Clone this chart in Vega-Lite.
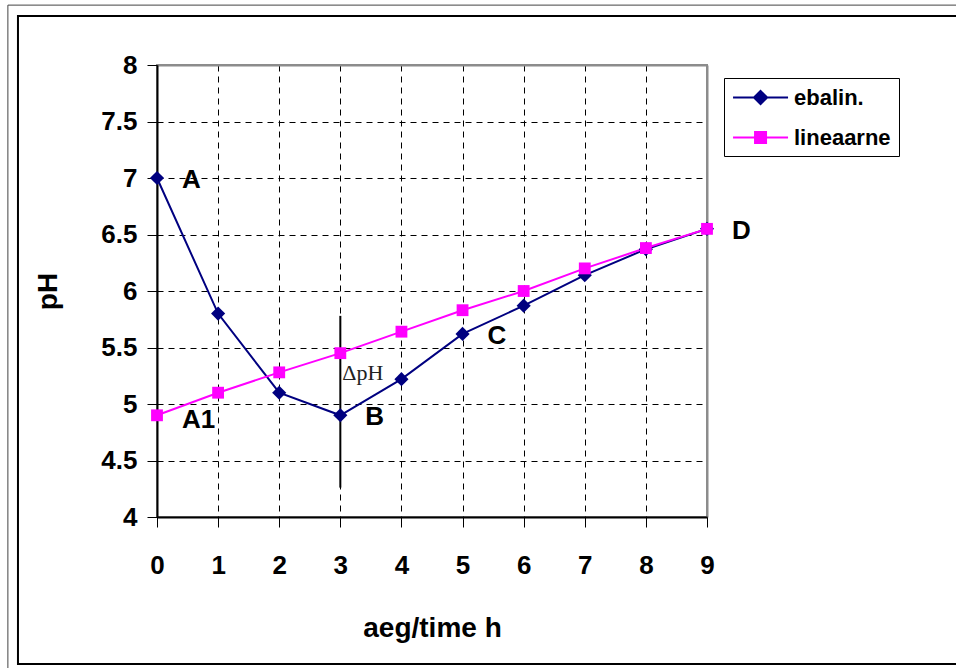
{
  "$schema": "https://vega.github.io/schema/vega-lite/v6.json",
  "width": 550,
  "height": 452,
  "autosize": {"type": "none"},
  "padding": {"left": 157, "top": 65, "right": 249, "bottom": 151},
  "background": "white",
  "datasets": {
    "series": [
      {"t": 0, "pH": 7.0, "series": "ebalin."},
      {"t": 1, "pH": 5.8, "series": "ebalin."},
      {"t": 2, "pH": 5.1, "series": "ebalin."},
      {"t": 3, "pH": 4.9, "series": "ebalin."},
      {"t": 4, "pH": 5.22, "series": "ebalin."},
      {"t": 5, "pH": 5.62, "series": "ebalin."},
      {"t": 6, "pH": 5.87, "series": "ebalin."},
      {"t": 7, "pH": 6.14, "series": "ebalin."},
      {"t": 8, "pH": 6.37, "series": "ebalin."},
      {"t": 9, "pH": 6.55, "series": "ebalin."},
      {"t": 0, "pH": 4.9, "series": "lineaarne"},
      {"t": 1, "pH": 5.1, "series": "lineaarne"},
      {"t": 2, "pH": 5.28, "series": "lineaarne"},
      {"t": 3, "pH": 5.45, "series": "lineaarne"},
      {"t": 4, "pH": 5.64, "series": "lineaarne"},
      {"t": 5, "pH": 5.83, "series": "lineaarne"},
      {"t": 6, "pH": 6.0, "series": "lineaarne"},
      {"t": 7, "pH": 6.2, "series": "lineaarne"},
      {"t": 8, "pH": 6.38, "series": "lineaarne"},
      {"t": 9, "pH": 6.55, "series": "lineaarne"}
    ],
    "points": [
      {"label": "A", "t": 0, "pH": 7.0},
      {"label": "A1", "t": 0, "pH": 4.88},
      {"label": "B", "t": 3, "pH": 4.9},
      {"label": "C", "t": 5, "pH": 5.62},
      {"label": "D", "t": 9, "pH": 6.55}
    ],
    "delta": [{"t": 3, "lo": 4.26, "hi": 5.78, "mid": 5.27, "label": "ΔpH"}],
    "frame": [{"left": -2.44, "right": 14, "top": 8.53, "bottom": 1.5, "inLeft": -2.275, "inTop": 8.434, "inBottom": 2.699}]
  },
  "layer": [
    {
      "data": {"name": "frame"},
      "mark": {"type": "rect", "fillOpacity": 0, "stroke": "#444444", "strokeWidth": 1, "clip": false},
      "encoding": {
        "x": {"field": "left", "type": "quantitative", "scale": {"domain": [0, 9], "nice": false, "zero": false}},
        "x2": {"field": "right"},
        "y": {"field": "top", "type": "quantitative", "scale": {"domain": [4, 8], "nice": false, "zero": false}},
        "y2": {"field": "bottom"}
      }
    },
    {
      "data": {"name": "frame"},
      "mark": {"type": "rect", "fillOpacity": 0, "stroke": "black", "strokeWidth": 2, "clip": false},
      "encoding": {
        "x": {"field": "inLeft", "type": "quantitative"},
        "x2": {"field": "right"},
        "y": {"field": "inTop", "type": "quantitative"},
        "y2": {"field": "inBottom"}
      }
    },
    {
      "data": {"name": "delta"},
      "mark": {"type": "rule", "color": "black", "strokeWidth": 2},
      "encoding": {
        "x": {"field": "t", "type": "quantitative"},
        "y": {"field": "hi", "type": "quantitative"},
        "y2": {"field": "lo"}
      }
    },
    {
      "data": {"name": "delta"},
      "mark": {"type": "text", "align": "left", "baseline": "middle", "dx": 2, "font": "Liberation Serif", "fontSize": 22, "color": "#222222"},
      "encoding": {
        "x": {"field": "t", "type": "quantitative"},
        "y": {"field": "mid", "type": "quantitative"},
        "text": {"field": "label"}
      }
    },
    {
      "data": {"name": "series"},
      "mark": {"type": "line", "strokeWidth": 2},
      "encoding": {
        "x": {
          "field": "t", "type": "quantitative",
          "axis": {
            "title": "aeg/time h",
            "values": [0, 1, 2, 3, 4, 5, 6, 7, 8, 9],
            "format": "d",
            "gridColor": {"condition": {"test": "datum.value === 9", "value": "#8c8c8c"}, "value": "black"},
            "gridDash": {"condition": {"test": "datum.value === 9", "value": []}, "value": [6, 5]},
            "gridWidth": {"condition": {"test": "datum.value === 9", "value": 2}, "value": 1}
          }
        },
        "y": {
          "field": "pH", "type": "quantitative",
          "axis": {
            "title": "pH",
            "values": [4, 4.5, 5, 5.5, 6, 6.5, 7, 7.5, 8],
            "format": "~f",
            "gridColor": {"condition": {"test": "datum.value === 8", "value": "#8c8c8c"}, "value": "black"},
            "gridDash": {"condition": {"test": "datum.value === 8", "value": []}, "value": [6, 5]},
            "gridWidth": {"condition": {"test": "datum.value === 8", "value": 2}, "value": 1}
          }
        },
        "color": {
          "field": "series", "type": "nominal", "legend": null,
          "scale": {"range": ["#000080", "#FF00FF"]}
        }
      }
    },
    {
      "data": {"name": "series"},
      "transform": [{"filter": "datum.series === 'ebalin.'"}],
      "mark": {"type": "point", "shape": "diamond", "filled": true, "size": 200, "opacity": 1},
      "encoding": {
        "x": {"field": "t", "type": "quantitative"},
        "y": {"field": "pH", "type": "quantitative"},
        "color": {"field": "series", "type": "nominal", "legend": null}
      }
    },
    {
      "data": {"name": "series"},
      "transform": [{"filter": "datum.series === 'lineaarne'"}],
      "mark": {"type": "point", "shape": "square", "filled": true, "size": 140, "opacity": 1},
      "encoding": {
        "x": {"field": "t", "type": "quantitative"},
        "y": {"field": "pH", "type": "quantitative"},
        "color": {"field": "series", "type": "nominal", "legend": null}
      }
    },
    {
      "data": {"name": "points"},
      "mark": {"type": "text", "align": "left", "baseline": "middle", "dx": 25, "dy": 2, "font": "Liberation Sans", "fontWeight": "bold", "fontSize": 26, "color": "black"},
      "encoding": {
        "x": {"field": "t", "type": "quantitative"},
        "y": {"field": "pH", "type": "quantitative"},
        "text": {"field": "label"}
      }
    },
    {
      "data": {"name": "series"},
      "mark": {"type": "point", "filled": true, "opacity": 0, "strokeWidth": 2},
      "encoding": {
        "x": {"field": "t", "type": "quantitative"},
        "y": {"field": "pH", "type": "quantitative"},
        "fill": {
          "field": "series", "type": "nominal",
          "scale": {"domain": ["ebalin.", "lineaarne"], "range": ["#000080", "#FF00FF"]},
          "legend": {
            "orient": "none", "legendX": 567, "legendY": 13, "title": null,
            "padding": 7.5, "rowPadding": 17, "symbolSize": 484, "labelOffset": 38.5,
            "symbolStrokeWidth": 2, "symbolOpacity": 1,
            "labelFont": "Liberation Sans", "labelFontWeight": "bold", "labelFontSize": 22, "labelColor": "black",
            "strokeColor": "black", "fillColor": "white",
            "encode": {
              "symbols": {
                "update": {
                  "fill": {"scale": "fill", "field": "value"},
                  "fillOpacity": {"value": 1},
                  "opacity": {"value": 1}
                }
              }
            }
          }
        },
        "stroke": {
          "field": "series", "type": "nominal",
          "scale": {"domain": ["ebalin.", "lineaarne"], "range": ["#000080", "#FF00FF"]}
        },
        "shape": {
          "field": "series", "type": "nominal",
          "scale": {
            "domain": ["ebalin.", "lineaarne"],
            "range": [
              "M-0.95,0H4.05M1.55,-0.6L2.15,0L1.55,0.6L0.95,0Z",
              "M-0.95,0H4.05M1.05,-0.5H2.05V0.5H1.05Z"
            ]
          }
        }
      }
    }
  ],
  "config": {
    "view": {"stroke": "#8c8c8c", "strokeWidth": 2},
    "axis": {
      "domainColor": "black",
      "domainWidth": 2,
      "tickColor": "black",
      "tickWidth": 1,
      "tickSize": 10,
      "grid": true,
      "labelFont": "Liberation Sans",
      "labelFontWeight": "bold",
      "labelFontSize": 26,
      "labelColor": "black",
      "titleFont": "Liberation Sans",
      "titleFontWeight": "bold",
      "titleFontSize": 28,
      "titleColor": "black"
    },
    "axisX": {"labelPadding": 25, "titlePadding": 36, "labelFlush": false},
    "axisY": {"labelPadding": 10, "titlePadding": 38, "labelFlush": false}
  }
}
